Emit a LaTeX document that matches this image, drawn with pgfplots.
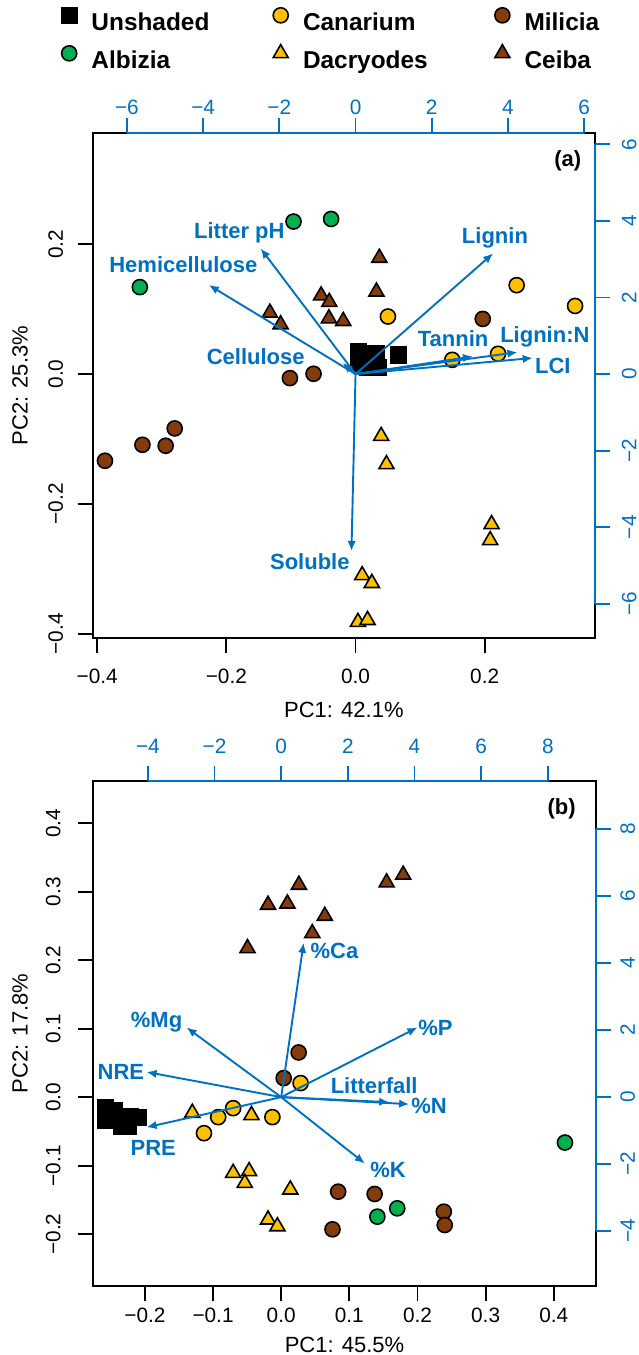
\documentclass[border=0pt]{standalone}
\usepackage{fontspec}
\setmainfont{Liberation Sans}
\usepackage{pgfplots}
\pgfplotsset{compat=1.18}
\usetikzlibrary{arrows.meta}
\definecolor{cblue}{HTML}{0070C0}
\definecolor{cyel}{HTML}{FFC000}
\definecolor{cbrown}{HTML}{843C0C}
\definecolor{cgreen}{HTML}{00B050}
\newcommand\tickfont{\fontsize{10.4}{12}\selectfont}
\newcommand\titlefont{\fontsize{11}{13}\selectfont}
\newcommand\lblfont{\fontsize{11}{13}\selectfont\bfseries}
\newcommand\legfont{\fontsize{12.2}{14}\selectfont\bfseries}
\tikzset{vlab/.style={font=\lblfont, text=cblue, anchor=center, inner sep=0pt}}
\pgfplotsset{
  base/.style={scale only axis, width=251.2pt, height=252.5pt, anchor=south west, clip=false,
    tick align=outside, major tick length=7.5pt},
  mainax/.style={base, axis line style={line width=0.9pt, black},
    tick style={line width=0.9pt, black}, xtick pos=left, ytick pos=left,
    xticklabel style={font=\tickfont, anchor=center},
    yticklabel style={font=\tickfont, rotate=90, anchor=center},
    xlabel style={font=\titlefont, anchor=center},
    ylabel style={font=\titlefont, anchor=center}},
  secax/.style={base, axis x line*=top, axis y line*=right, axis line style={draw=none},
    tick style={line width=0.9pt, cblue},
    xticklabel style={font=\tickfont, anchor=center, text=cblue},
    yticklabel style={font=\tickfont, rotate=90, anchor=center, text=cblue}},
  unsh/.style={only marks, mark=square*, mark size=3.9pt, draw=black, fill=black, line width=0.8pt},
  cana/.style={only marks, mark=*, mark size=3.77pt, draw=black, fill=cyel, line width=0.8pt},
  mili/.style={only marks, mark=*, mark size=3.77pt, draw=black, fill=cbrown, line width=0.8pt},
  albi/.style={only marks, mark=*, mark size=3.77pt, draw=black, fill=cgreen, line width=0.8pt},
  dacr/.style={only marks, mark=triangle*, mark size=4.35pt, draw=black, fill=cyel, line width=0.8pt},
  ceib/.style={only marks, mark=triangle*, mark size=4.35pt, draw=black, fill=cbrown, line width=0.8pt},
  vec/.style={cblue, line width=0.95pt, -{Latex[length=5pt,width=4.2pt]}, forget plot},
}
\begin{document}
\begin{tikzpicture}
\useasboundingbox (0,0) rectangle (319pt,677.5pt);
% ---------------- Panel (a) ----------------
\begin{axis}[mainax, at={(46.35pt,358.35pt)},
  xmin=-0.4070, xmax=0.3710, ymin=-0.4070, ymax=0.3710,
  xtick={-0.4,-0.2,0,0.2}, xticklabels={−0.4,−0.2,0.0,0.2},
  ytick={-0.4,-0.2,0,0.2}, yticklabels={−0.4,−0.2,0.0,0.2},
  xticklabel shift=11.5pt, yticklabel shift=11pt,
  xlabel={PC1: 42.1\%}, ylabel={PC2: 25.3\%},
  xlabel style={at={(axis description cs:0.5,-0.142)}},
  ylabel style={at={(axis description cs:-0.1447,0.5)}},
  legend columns=3, legend cell align=left,
  legend image code/.code={\path[draw=none,fill=none] (-4.5pt,0pt) rectangle (4.5pt,9pt); \draw[#1] plot coordinates {(0pt,4.4pt)};},
  legend style={at={(axis description cs:-0.0647,1.2518)}, anchor=north west, draw=none, fill=none,
    inner sep=0pt, outer sep=0pt, row sep=4.2pt,
    nodes={inner sep=0pt, text height=9pt, text depth=2.6pt, font=\legfont},
    /tikz/column 1/.style={column sep=6.65pt}, /tikz/column 2/.style={column sep=31.13pt},
    /tikz/column 3/.style={column sep=6.65pt}, /tikz/column 4/.style={column sep=32.8pt},
    /tikz/column 5/.style={column sep=6.6pt}},
]
\addplot[unsh] coordinates {(0.0047,0.0354) (0.0318,0.0313) (0.0047,0.0159) (0.0194,0.0097) (0.0357,0.0097) (0.0178,0.0251) (0.0667,0.0293)};
\addlegendentry{Unshaded}
\addplot[cana] coordinates {(0.0502,0.0887) (0.2495,0.137) (0.340,0.105) (0.1498,0.022) (0.2208,0.0313)};
\addlegendentry{Canarium}
\addplot[mili] coordinates {(-0.1016,-0.0062) (-0.065,0.0005) (0.197,0.085) (-0.388,-0.1335) (-0.330,-0.1089) (-0.294,-0.1104) (-0.280,-0.0837)};
\addlegendentry{Milicia}
\addplot[albi] coordinates {(-0.096,0.235) (-0.0378,0.239) (-0.334,0.134)};
\addlegendentry{Albizia}
\addplot[dacr] coordinates {(0.0397,-0.0955) (0.0479,-0.139) (0.2107,-0.2314) (0.2085,-0.256) (0.0103,-0.310) (0.0253,-0.322) (0.0037,-0.382) (0.0186,-0.379)};
\addlegendentry{Dacryodes}
\addplot[ceib] coordinates {(0.0369,0.179) (0.0324,0.127) (-0.0533,0.121) (-0.0406,0.111) (-0.1326,0.0944) (-0.116,0.0765) (-0.0412,0.0857) (-0.019,0.0816)};
\addlegendentry{Ceiba}
\node[font=\lblfont, anchor=center, inner sep=0pt] at (axis cs:0.3287,0.3284) {(a)};
\end{axis}
\begin{axis}[secax, at={(46.35pt,358.35pt)},
  xmin=-6.899, xmax=6.288, ymin=-6.899, ymax=6.288,
  xtick={-6,-4,-2,0,2,4,6}, xticklabels={−6,−4,−2,0,2,4,6},
  ytick={-6,-4,-2,0,2,4,6}, yticklabels={−6,−4,−2,0,2,4,6},
  xticklabel shift=9.85pt, yticklabel shift=9.5pt,
  xticklabel style={yshift=-4.5pt},
]
\draw[cblue, line width=0.9pt] ({axis cs:-6,0} |- {rel axis cs:0,1}) -- ({axis cs:6,0} |- {rel axis cs:0,1});
\draw[cblue, line width=0.9pt] ({axis cs:0,-6} -| {rel axis cs:1,0}) -- ({axis cs:0,6} -| {rel axis cs:1,0});
\addplot[vec] coordinates {(0,0) (-2.49,3.28)};
\addplot[vec] coordinates {(0,0) (-3.85,2.325)};
\addplot[vec] coordinates {(0,0) (3.61,3.15)};
\addplot[vec] coordinates {(0,0) (-0.34,0.29)};
\addplot[vec] coordinates {(0,0) (3.08,0.46)};
\addplot[vec] coordinates {(0,0) (4.25,0.57)};
\addplot[vec] coordinates {(0,0) (4.65,0.42)};
\addplot[vec] coordinates {(0,0) (-0.107,-4.62)};
\node[vlab] at (axis cs:-3.05,3.69) {Litter pH};
\node[vlab] at (axis cs:-4.52,2.87) {Hemicellulose};
\node[vlab] at (axis cs:3.66,3.56) {Lignin};
\node[vlab] at (axis cs:-2.62,0.46) {Cellulose};
\node[vlab] at (axis cs:2.56,0.92) {Tannin};
\node[vlab] at (axis cs:4.97,0.96) {Lignin:N};
\node[vlab] at (axis cs:5.18,0.22) {LCI};
\node[vlab] at (axis cs:-1.20,-4.90) {Soluble};
\end{axis}
% ---------------- Panel (b) ----------------
\begin{axis}[mainax, at={(46.65pt,34.5pt)},
  xmin=-0.2757, xmax=0.4615, ymin=-0.2757, ymax=0.4615,
  xtick={-0.2,-0.1,0,0.1,0.2,0.3,0.4}, xticklabels={−0.2,−0.1,0.0,0.1,0.2,0.3,0.4},
  ytick={-0.2,-0.1,0,0.1,0.2,0.3,0.4}, yticklabels={−0.2,−0.1,0.0,0.1,0.2,0.3,0.4},
  xticklabel shift=7pt, yticklabel shift=12.5pt,
  xlabel={PC1: 45.5\%}, ylabel={PC2: 17.8\%},
  xlabel style={at={(axis description cs:0.5,-0.1168)}},
  ylabel style={at={(axis description cs:-0.1459,0.5)}},
]
\addplot[unsh] coordinates {(-0.2576,-0.0156) (-0.2576,-0.0346) (-0.2449,-0.0200) (-0.2346,-0.0434) (-0.2244,-0.0434) (-0.2215,-0.0288) (-0.2089,-0.0303) (-0.2420,-0.0332)};
\addplot[cana] coordinates {(0.0285,0.0205) (-0.1133,-0.0526) (-0.0924,-0.0292) (-0.0705,-0.0161) (-0.0129,-0.0292)};
\addplot[mili] coordinates {(0.0256,0.0652) (0.0037,0.0278) (0.0836,-0.138) (0.1371,-0.1414) (0.0753,-0.193) (0.2386,-0.1672) (0.24,-0.1867)};
\addplot[albi] coordinates {(0.1411,-0.1745) (0.1703,-0.1623) (0.4164,-0.0663)};
\addplot[dacr] coordinates {(-0.1304,-0.023) (-0.0436,-0.0264) (-0.0705,-0.1108) (-0.0471,-0.1083) (-0.0534,-0.1254) (0.0134,-0.135) (-0.0193,-0.1789) (-0.0056,-0.1887)};
\addplot[ceib] coordinates {(-0.0494,0.2173) (-0.0193,0.2806) (0.0091,0.2825) (0.026,0.3098) (0.0456,0.2392) (0.064,0.2645) (0.1547,0.3132) (0.179,0.3245)};
\node[font=\lblfont, anchor=center, inner sep=0pt] at (axis cs:0.4115,0.4215) {(b)};
\end{axis}
\begin{axis}[secax, at={(46.65pt,34.5pt)},
  xmin=-5.638, xmax=9.438, ymin=-5.638, ymax=9.438,
  xtick={-4,-2,0,2,4,6,8}, xticklabels={−4,−2,0,2,4,6,8},
  ytick={-4,-2,0,2,4,6,8}, yticklabels={−4,−2,0,2,4,6,8},
  xticklabel shift=9.85pt, yticklabel shift=8.5pt,
]
\draw[cblue, line width=0.9pt] ({axis cs:-4,0} |- {rel axis cs:0,1}) -- ({axis cs:8,0} |- {rel axis cs:0,1});
\draw[cblue, line width=0.9pt] ({axis cs:0,-4} -| {rel axis cs:1,0}) -- ({axis cs:0,8} -| {rel axis cs:1,0});
\addplot[vec] coordinates {(0,0) (0.674,4.61)};
\addplot[vec] coordinates {(0,0) (-2.84,2.08)};
\addplot[vec] coordinates {(0,0) (4.09,2.08)};
\addplot[vec] coordinates {(0,0) (-4.04,0.75)};
\addplot[vec] coordinates {(0,0) (-4.04,-0.90)};
\addplot[vec] coordinates {(0,0) (3.24,-0.15)};
\addplot[vec] coordinates {(0,0) (3.84,-0.21)};
\addplot[vec] coordinates {(0,0) (2.51,-1.98)};
\node[vlab] at (axis cs:1.60,4.36) {\%Ca};
\node[vlab] at (axis cs:-3.74,2.25) {\%Mg};
\node[vlab] at (axis cs:4.63,2.08) {\%P};
\node[vlab] at (axis cs:-4.81,0.75) {NRE};
\node[vlab] at (axis cs:-3.84,-1.53) {PRE};
\node[vlab] at (axis cs:2.79,0.34) {Litterfall};
\node[vlab] at (axis cs:4.44,-0.25) {\%N};
\node[vlab] at (axis cs:3.21,-2.18) {\%K};
\end{axis}
\end{tikzpicture}
\end{document}
